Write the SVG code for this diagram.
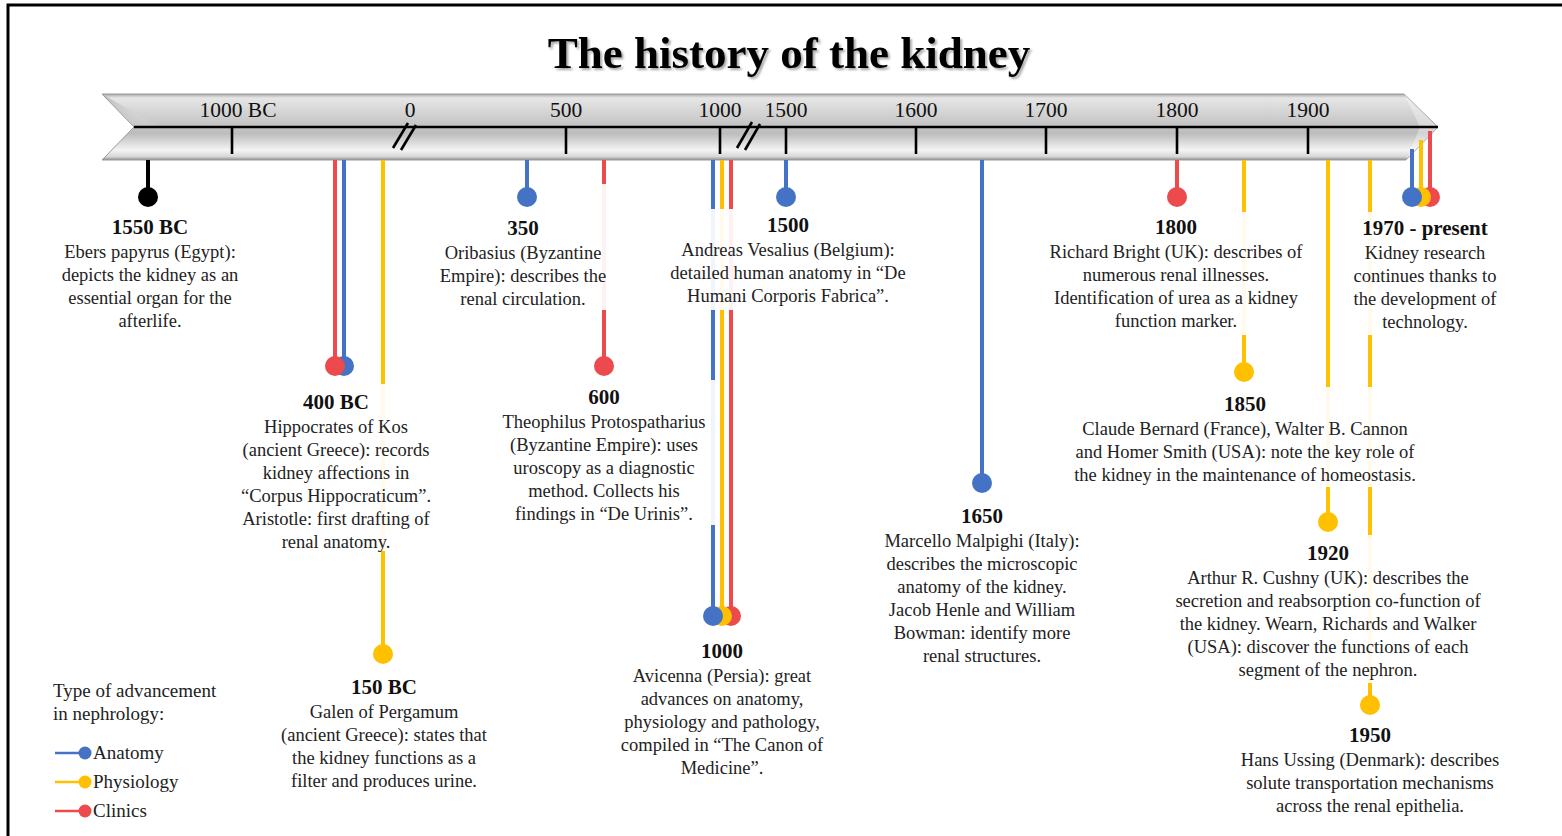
<svg xmlns="http://www.w3.org/2000/svg" width="1562" height="836" viewBox="0 0 1562 836">
<defs>
<linearGradient id="bar" x1="0" y1="0" x2="0" y2="1">
<stop offset="0" stop-color="#a9a9a9"/>
<stop offset="0.06" stop-color="#e6e6e6"/>
<stop offset="0.45" stop-color="#c6c6c6"/>
<stop offset="0.6" stop-color="#bdbdbd"/>
<stop offset="0.85" stop-color="#f4f4f4"/>
<stop offset="0.95" stop-color="#d6d6d6"/>
<stop offset="1" stop-color="#8e8e8e"/>
</linearGradient>
<linearGradient id="notch" x1="0" y1="0" x2="1" y2="0">
<stop offset="0" stop-color="#9a9a9a" stop-opacity="0.6"/>
<stop offset="1" stop-color="#ffffff" stop-opacity="0"/>
</linearGradient>
<filter id="sh" x="-5%" y="-20%" width="110%" height="150%">
<feDropShadow dx="2" dy="2" stdDeviation="1.2" flood-color="#000" flood-opacity="0.35"/>
</filter>
<style>
.ttl{font:bold 45px "Liberation Serif","Times New Roman",serif;text-anchor:middle;fill:#000}
.tk{font:21.5px "Liberation Serif","Times New Roman",serif;text-anchor:middle;fill:#111}
.yr{font:bold 21px "Liberation Serif","Times New Roman",serif;text-anchor:middle;fill:#111}
.tx{font:18.5px "Liberation Serif","Times New Roman",serif;text-anchor:middle;fill:#222}
.lg{font:19px "Liberation Serif","Times New Roman",serif;fill:#222}
.bg{fill:#fff;fill-opacity:0.92}
.ax{stroke:#000;stroke-width:2.6;fill:none}
.ln{stroke-width:4;fill:none}
.A{stroke:#4472C4}.P{stroke:#FFC000}.C{stroke:#EC4A4C}.K{stroke:#000}
.fA{fill:#4472C4}.fP{fill:#FFC000}.fC{fill:#EC4A4C}.fK{fill:#000}
</style>
</defs>
<rect x="0" y="0" width="1562" height="836" fill="#fff"/>
<rect x="8" y="5" width="1600" height="900" fill="none" stroke="#000" stroke-width="3"/>
<text class="ttl" x="789" y="68" filter="url(#sh)">The history of the kidney</text>

<g id="timeline">
<path d="M102,94 L1404,94 L1438,127 L1406,160 L102,160 L134,127 Z" fill="url(#bar)" stroke="#9a9a9a" stroke-width="1"/>
<path d="M102,94 L134,127 L160,127 Z" fill="url(#notch)"/>
<path d="M1404,94 L1438,127 L1406,160 L1420,127 Z" fill="#ffffff" fill-opacity="0.35"/>
<line class="ax" x1="134" y1="127" x2="1438" y2="127"/>
<g class="ax">
<line x1="232" y1="127" x2="232" y2="154"/>
<line x1="566" y1="127" x2="566" y2="154"/>
<line x1="720" y1="127" x2="720" y2="154"/>
<line x1="786" y1="127" x2="786" y2="154"/>
<line x1="916" y1="127" x2="916" y2="154"/>
<line x1="1046" y1="127" x2="1046" y2="154"/>
<line x1="1177" y1="127" x2="1177" y2="154"/>
<line x1="1308" y1="127" x2="1308" y2="154"/>
<line x1="393" y1="148" x2="408" y2="123"/>
<line x1="401" y1="150" x2="416" y2="125"/>
<line x1="737" y1="148" x2="752" y2="122"/>
<line x1="745" y1="150" x2="760" y2="124"/>
</g>
<text class="tk" x="238" y="117">1000 BC</text>
<text class="tk" x="410" y="117">0</text>
<text class="tk" x="566" y="117">500</text>
<text class="tk" x="720" y="117">1000</text>
<text class="tk" x="786" y="117">1500</text>
<text class="tk" x="916" y="117">1600</text>
<text class="tk" x="1046" y="117">1700</text>
<text class="tk" x="1177" y="117">1800</text>
<text class="tk" x="1308" y="117">1900</text>
</g>

<g id="connectors">
<line class="ln K" x1="148" y1="160" x2="148" y2="197"/><circle class="fK" cx="148" cy="197" r="10"/>
<line class="ln A" x1="344" y1="160" x2="344" y2="366"/><circle class="fA" cx="344" cy="366" r="10"/>
<line class="ln C" x1="335" y1="160" x2="335" y2="366"/><circle class="fC" cx="335" cy="366" r="10"/>
<line class="ln P" x1="383" y1="160" x2="383" y2="654"/><circle class="fP" cx="383" cy="654" r="10"/>
<line class="ln A" x1="527" y1="160" x2="527" y2="197"/><circle class="fA" cx="527" cy="197" r="10"/>
<line class="ln C" x1="604" y1="160" x2="604" y2="366"/><circle class="fC" cx="604" cy="366" r="10"/>
<line class="ln C" x1="731" y1="160" x2="731" y2="616"/><circle class="fC" cx="731" cy="616" r="10"/>
<line class="ln P" x1="722" y1="160" x2="722" y2="616"/><circle class="fP" cx="722" cy="616" r="10"/>
<line class="ln A" x1="713" y1="160" x2="713" y2="616"/><circle class="fA" cx="713" cy="616" r="10"/>
<line class="ln A" x1="786" y1="160" x2="786" y2="197"/><circle class="fA" cx="786" cy="197" r="10"/>
<line class="ln A" x1="982" y1="160" x2="982" y2="483"/><circle class="fA" cx="982" cy="483" r="10"/>
<line class="ln C" x1="1177" y1="160" x2="1177" y2="197"/><circle class="fC" cx="1177" cy="197" r="10"/>
<line class="ln P" x1="1244" y1="160" x2="1244" y2="372"/><circle class="fP" cx="1244" cy="372" r="10"/>
<line class="ln P" x1="1328" y1="160" x2="1328" y2="522"/><circle class="fP" cx="1328" cy="522" r="10"/>
<line class="ln P" x1="1370" y1="160" x2="1370" y2="705"/><circle class="fP" cx="1370" cy="705" r="10"/>
<line class="ln C" x1="1430" y1="131" x2="1430" y2="197"/><circle class="fC" cx="1430" cy="197" r="10"/>
<line class="ln P" x1="1421" y1="140" x2="1421" y2="197"/><circle class="fP" cx="1421" cy="197" r="10"/>
<line class="ln A" x1="1412" y1="149" x2="1412" y2="197"/><circle class="fA" cx="1412" cy="197" r="10"/>
</g>

<g id="n1550bc">
<rect class="bg" x="58" y="212" width="184" height="118"/>
<text class="yr" x="150" y="234">1550 BC</text>
<text class="tx" x="150" y="258">Ebers papyrus (Egypt):</text>
<text class="tx" x="150" y="281">depicts the kidney as an</text>
<text class="tx" x="150" y="304">essential organ for the</text>
<text class="tx" x="150" y="327">afterlife.</text>
</g>

<g id="n400bc">
<rect class="bg" x="236" y="384" width="202" height="167"/>
<text class="yr" x="336" y="409">400 BC</text>
<text class="tx" x="336" y="433">Hippocrates of Kos</text>
<text class="tx" x="336" y="456">(ancient Greece): records</text>
<text class="tx" x="336" y="479">kidney affections in</text>
<text class="tx" x="336" y="502">“Corpus Hippocraticum”.</text>
<text class="tx" x="336" y="525">Aristotle: first drafting of</text>
<text class="tx" x="336" y="548">renal anatomy.</text>
</g>

<g id="n150bc">
<text class="yr" x="384" y="694">150 BC</text>
<text class="tx" x="384" y="718">Galen of Pergamum</text>
<text class="tx" x="384" y="741">(ancient Greece): states that</text>
<text class="tx" x="384" y="764">the kidney functions as a</text>
<text class="tx" x="384" y="787">filter and produces urine.</text>
</g>

<g id="n350">
<rect class="bg" x="545" y="184" width="67" height="26"/>
<rect class="bg" x="436" y="210" width="176" height="100"/>
<text class="yr" x="523" y="235">350</text>
<text class="tx" x="523" y="259">Oribasius (Byzantine</text>
<text class="tx" x="523" y="282">Empire): describes the</text>
<text class="tx" x="523" y="305">renal circulation.</text>
</g>

<g id="n600">
<rect class="bg" x="497" y="380" width="220" height="145"/>
<text class="yr" x="604" y="404">600</text>
<text class="tx" x="604" y="428">Theophilus Protospatharius</text>
<text class="tx" x="604" y="451">(Byzantine Empire): uses</text>
<text class="tx" x="604" y="474">uroscopy as a diagnostic</text>
<text class="tx" x="604" y="497">method. Collects his</text>
<text class="tx" x="604" y="520">findings in “De Urinis”.</text>
</g>

<g id="n1000">
<text class="yr" x="722" y="658">1000</text>
<text class="tx" x="722" y="682">Avicenna (Persia): great</text>
<text class="tx" x="722" y="705">advances on anatomy,</text>
<text class="tx" x="722" y="728">physiology and pathology,</text>
<text class="tx" x="722" y="751">compiled in “The Canon of</text>
<text class="tx" x="722" y="774">Medicine”.</text>
</g>

<g id="n1500">
<rect class="bg" x="664" y="209" width="247" height="101"/>
<text class="yr" x="788" y="232">1500</text>
<text class="tx" x="788" y="256">Andreas Vesalius (Belgium):</text>
<text class="tx" x="788" y="279">detailed human anatomy in “De</text>
<text class="tx" x="788" y="302">Humani Corporis Fabrica”.</text>
</g>

<g id="n1650">
<text class="yr" x="982" y="523">1650</text>
<text class="tx" x="982" y="547">Marcello Malpighi (Italy):</text>
<text class="tx" x="982" y="570">describes the microscopic</text>
<text class="tx" x="982" y="593">anatomy of the kidney.</text>
<text class="tx" x="982" y="616">Jacob Henle and William</text>
<text class="tx" x="982" y="639">Bowman: identify more</text>
<text class="tx" x="982" y="662">renal structures.</text>
</g>

<g id="n1800">
<rect class="bg" x="1044" y="212" width="268" height="123"/>
<text class="yr" x="1176" y="234">1800</text>
<text class="tx" x="1176" y="258">Richard Bright (UK): describes of</text>
<text class="tx" x="1176" y="281">numerous renal illnesses.</text>
<text class="tx" x="1176" y="304">Identification of urea as a kidney</text>
<text class="tx" x="1176" y="327">function marker.</text>
</g>

<g id="n1850">
<rect class="bg" x="1066" y="387" width="360" height="100"/>
<text class="yr" x="1245" y="411">1850</text>
<text class="tx" x="1245" y="435">Claude Bernard (France), Walter B. Cannon</text>
<text class="tx" x="1245" y="458">and Homer Smith (USA): note the key role of</text>
<text class="tx" x="1245" y="481">the kidney in the maintenance of homeostasis.</text>
</g>

<g id="n1920">
<rect class="bg" x="1168" y="535" width="322" height="148"/>
<text class="yr" x="1328" y="560">1920</text>
<text class="tx" x="1328" y="584">Arthur R. Cushny (UK): describes the</text>
<text class="tx" x="1328" y="607">secretion and reabsorption co-function of</text>
<text class="tx" x="1328" y="630">the kidney. Wearn, Richards and Walker</text>
<text class="tx" x="1328" y="653">(USA): discover the functions of each</text>
<text class="tx" x="1328" y="676">segment of the nephron.</text>
</g>

<g id="n1950">
<text class="yr" x="1370" y="742">1950</text>
<text class="tx" x="1370" y="766">Hans Ussing (Denmark): describes</text>
<text class="tx" x="1370" y="789">solute transportation mechanisms</text>
<text class="tx" x="1370" y="812">across the renal epithelia.</text>
</g>

<g id="n1970">
<rect class="bg" x="1348" y="212" width="152" height="123"/>
<text class="yr" x="1425" y="235">1970 - present</text>
<text class="tx" x="1425" y="259">Kidney research</text>
<text class="tx" x="1425" y="282">continues thanks to</text>
<text class="tx" x="1425" y="305">the development of</text>
<text class="tx" x="1425" y="328">technology.</text>
</g>

<g id="legend">
<text class="lg" x="53" y="697">Type of advancement</text>
<text class="lg" x="53" y="720">in nephrology:</text>
<line x1="55" y1="753" x2="84" y2="753" stroke="#4472C4" stroke-width="2.5"/><circle class="fA" cx="85" cy="753" r="6.5"/>
<text class="lg" x="93" y="759">Anatomy</text>
<line x1="55" y1="782" x2="84" y2="782" stroke="#FFC000" stroke-width="2.5"/><circle class="fP" cx="85" cy="782" r="6.5"/>
<text class="lg" x="93" y="788">Physiology</text>
<line x1="55" y1="811" x2="84" y2="811" stroke="#EC4A4C" stroke-width="2.5"/><circle class="fC" cx="85" cy="811" r="6.5"/>
<text class="lg" x="93" y="817">Clinics</text>
</g>
</svg>
